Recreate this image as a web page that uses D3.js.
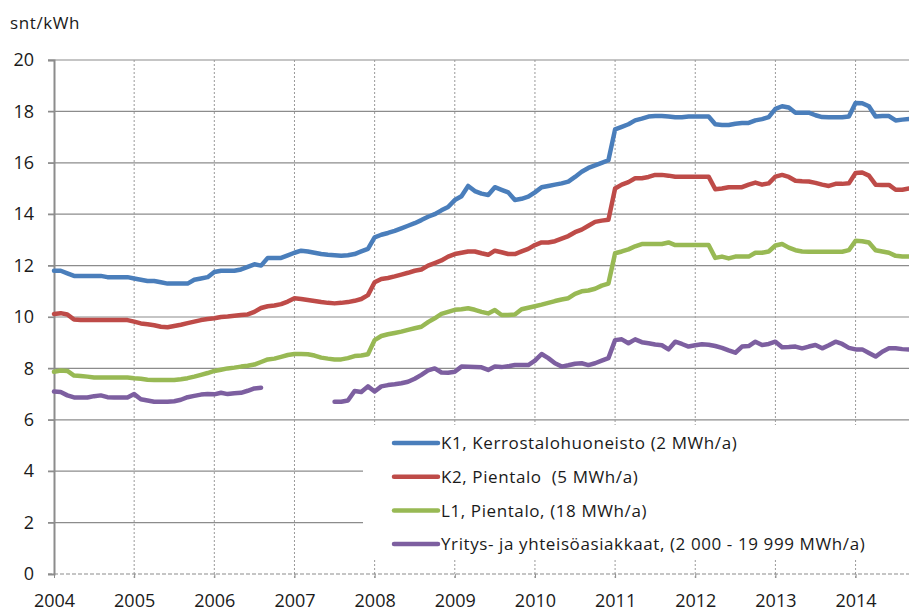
<!DOCTYPE html>
<html><head><meta charset="utf-8">
<script src="https://cdn.jsdelivr.net/npm/d3@7"></script>
<style>
html,body{margin:0;padding:0;background:#fff;}
svg{display:block;font-family:"Open Sans",sans-serif;}
</style></head>
<body>
<svg id="chart" width="909" height="612"></svg>
<script>
// Monthly series, Jan 2004 .. Sep 2014
const startYear = 2004;
const yearTicks = [2004,2005,2006,2007,2008,2009,2010,2011,2012,2013,2014];
const yTicks = [0,2,4,6,8,10,12,14,16,18,20];
const seriesNames = [
  "K1, Kerrostalohuoneisto (2 MWh/a)",
  "K2, Pientalo  (5 MWh/a)",
  "L1, Pientalo, (18 MWh/a)",
  "Yritys- ja yhteisöasiakkaat, (2 000 - 19 999 MWh/a)"
];
const seriesColors = ["#4a7ebb","#be4b48","#98b954","#7d5fa0"];

const k1 = [
 11.8,11.8,11.7,11.6,11.6,11.6,11.6,11.6,11.55,11.55,11.55,11.55,
 11.5,11.45,11.4,11.4,11.35,11.3,11.3,11.3,11.3,11.45,11.5,11.55,
 11.75,11.8,11.8,11.8,11.85,11.95,12.05,12.0,12.3,12.3,12.3,12.4,
 12.5,12.58,12.55,12.5,12.45,12.42,12.4,12.38,12.4,12.45,12.55,12.65,
 13.1,13.2,13.27,13.35,13.45,13.55,13.65,13.77,13.9,14.0,14.15,14.28,
 14.55,14.7,15.1,14.9,14.8,14.75,15.05,14.95,14.85,14.55,14.6,14.68,
 14.85,15.05,15.1,15.15,15.2,15.27,15.45,15.65,15.8,15.9,16.0,16.1,
 17.3,17.4,17.5,17.65,17.72,17.8,17.82,17.82,17.8,17.77,17.77,17.8,
 17.8,17.8,17.8,17.5,17.47,17.47,17.52,17.55,17.55,17.65,17.7,17.78,
 18.1,18.2,18.15,17.95,17.95,17.95,17.85,17.78,17.77,17.77,17.77,17.8,
 18.33,18.32,18.2,17.8,17.82,17.82,17.65,17.68,17.7
];
const k2 = [
 10.12,10.15,10.1,9.9,9.88,9.88,9.88,9.88,9.88,9.88,9.88,9.88,
 9.82,9.75,9.72,9.68,9.62,9.6,9.65,9.7,9.76,9.82,9.88,9.92,
 9.95,10.0,10.02,10.05,10.08,10.1,10.2,10.35,10.42,10.45,10.5,10.6,
 10.73,10.7,10.66,10.62,10.58,10.55,10.53,10.55,10.58,10.63,10.7,10.85,
 11.35,11.48,11.52,11.58,11.65,11.72,11.8,11.85,12.0,12.1,12.2,12.35,
 12.45,12.5,12.55,12.55,12.48,12.42,12.58,12.52,12.45,12.45,12.55,12.65,
 12.8,12.9,12.9,12.95,13.05,13.15,13.3,13.4,13.55,13.7,13.75,13.78,
 15.0,15.15,15.25,15.4,15.4,15.45,15.53,15.53,15.5,15.46,15.46,15.46,
 15.46,15.46,15.46,14.97,15.0,15.05,15.05,15.05,15.15,15.23,15.15,15.2,
 15.46,15.53,15.45,15.3,15.28,15.27,15.22,15.15,15.1,15.18,15.18,15.2,
 15.6,15.62,15.5,15.15,15.14,15.14,14.95,14.95,15.0
];
const l1 = [
 7.87,7.92,7.9,7.72,7.7,7.68,7.65,7.65,7.65,7.65,7.65,7.65,
 7.62,7.6,7.56,7.55,7.55,7.55,7.55,7.58,7.62,7.68,7.75,7.82,
 7.9,7.95,8.0,8.03,8.07,8.1,8.15,8.25,8.35,8.38,8.45,8.52,
 8.56,8.56,8.55,8.5,8.42,8.38,8.35,8.35,8.4,8.48,8.5,8.55,
 9.1,9.26,9.33,9.38,9.43,9.5,9.56,9.62,9.8,9.95,10.12,10.2,
 10.28,10.3,10.34,10.28,10.2,10.14,10.27,10.08,10.08,10.1,10.3,10.36,
 10.42,10.48,10.55,10.62,10.68,10.73,10.9,11.0,11.03,11.1,11.22,11.3,
 12.48,12.55,12.63,12.75,12.84,12.84,12.84,12.84,12.9,12.8,12.8,12.8,
 12.8,12.8,12.8,12.3,12.35,12.28,12.35,12.35,12.35,12.5,12.5,12.55,
 12.78,12.84,12.7,12.6,12.55,12.54,12.54,12.54,12.54,12.54,12.54,12.6,
 12.97,12.95,12.9,12.6,12.55,12.5,12.38,12.35,12.35
];
const yr = [
 7.1,7.08,6.95,6.87,6.87,6.87,6.92,6.95,6.88,6.87,6.87,6.87,
 7.0,6.8,6.75,6.7,6.7,6.7,6.72,6.78,6.88,6.93,6.98,7.0,
 6.99,7.05,7.0,7.03,7.05,7.13,7.22,7.25,null,null,null,null,
 null,null,null,null,null,null,6.7,6.7,6.75,7.12,7.08,7.3,
 7.1,7.3,7.35,7.38,7.42,7.48,7.6,7.75,7.92,8.0,7.84,7.83,
 7.87,8.07,8.06,8.05,8.04,7.94,8.07,8.05,8.08,8.13,8.13,8.13,
 8.3,8.56,8.4,8.2,8.07,8.12,8.18,8.2,8.13,8.2,8.3,8.4,
 9.1,9.13,8.98,9.13,9.02,8.98,8.93,8.9,8.74,9.04,8.95,8.85,
 8.9,8.94,8.92,8.87,8.8,8.7,8.61,8.85,8.87,9.04,8.91,8.95,
 9.04,8.82,8.83,8.85,8.78,8.85,8.91,8.78,8.9,9.04,8.95,8.8,
 8.74,8.74,8.6,8.46,8.65,8.78,8.78,8.75,8.74
];
const allSeries = [k1,k2,l1,yr];

const svg = d3.select("#chart");
const nMonths = k1.length; // 129
const x = d3.scaleLinear().domain([startYear, startYear + (nMonths-1)/12]).range([54, 909]);
const y = d3.scaleLinear().domain([0,20]).range([574, 60]);

// horizontal gridlines
const gridCol = "#8c8c8c";
svg.append("g").selectAll("line").data(yTicks.filter(d=>d>0)).join("line")
  .attr("x1", 48).attr("x2", 909)
  .attr("y1", d=>y(d)).attr("y2", d=>y(d))
  .attr("stroke", gridCol).attr("stroke-width", 1.2);
// vertical dotted gridlines
svg.append("g").selectAll("line").data(yearTicks.slice(1)).join("line")
  .attr("x1", d=>x(d)).attr("x2", d=>x(d))
  .attr("y1", y(20)).attr("y2", y(0)+4)
  .attr("stroke", "#9a9a9a").attr("stroke-width", 1).attr("stroke-dasharray","2,2");

// x axis line (dashed)
svg.append("line").attr("x1", 48).attr("x2", 909).attr("y1", y(0)).attr("y2", y(0))
  .attr("stroke", "#8c8c8c").attr("stroke-width", 1.2).attr("stroke-dasharray","4,2");
// y axis
const yAxis = d3.axisLeft(y).tickValues(yTicks).tickSize(6).tickPadding(14).tickFormat(d3.format("d"));
const ya = svg.append("g").attr("transform","translate(54,0)").call(yAxis);
ya.select(".domain").attr("stroke", "#8c8c8c").attr("stroke-width", 2);
ya.selectAll(".tick line").attr("stroke", "#8c8c8c").attr("stroke-width",1.2);
ya.selectAll("text").attr("font-size", 18).attr("fill", "#1a1a1a").attr("font-family","Open Sans");
ya.selectAll(".tick").filter(d=>d===0).select("line").attr("stroke-dasharray","2,1");

// x axis labels
const xAxis = d3.axisBottom(x).tickValues(yearTicks).tickSize(4).tickPadding(16).tickFormat(d3.format("d"));
const xa = svg.append("g").attr("transform",`translate(0,${y(0)})`).call(xAxis);
xa.select(".domain").remove();
xa.selectAll(".tick line").attr("stroke", "#8c8c8c");
xa.selectAll("text").attr("font-size", 18).attr("fill", "#1a1a1a").attr("font-family","Open Sans");

// unit label
svg.append("text").attr("x", 10).attr("y", 29).text("snt/kWh")
  .attr("font-size", 17).attr("fill", "#1a1a1a").attr("letter-spacing", 0.6);

// lines
const line = d3.line()
  .defined(d => d.v !== null)
  .x(d => x(d.t)).y(d => y(d.v));
allSeries.forEach((s, k) => {
  const pts = s.map((v,i)=>({t: startYear + i/12, v}));
  svg.append("path").datum(pts)
    .attr("d", line).attr("fill","none")
    .attr("stroke", seriesColors[k]).attr("stroke-width", 4.5)
    .attr("stroke-linejoin","round").attr("stroke-linecap","round");
});

// legend
const lg = svg.append("g");
lg.append("rect").attr("x", 363).attr("y", 425).attr("width", 546).attr("height", 135).attr("fill", "#fff");
seriesNames.forEach((n,k)=>{
  const cy = 443 + k*33.7;
  lg.append("line").attr("x1", 394).attr("x2", 438).attr("y1", cy).attr("y2", cy)
    .attr("stroke", seriesColors[k]).attr("stroke-width", 4.5).attr("stroke-linecap","round");
  lg.append("text").attr("x", 441).attr("y", cy).attr("dy","0.36em").text(n)
    .style("white-space","pre")
    .attr("font-size", 17).attr("fill","#1a1a1a").attr("letter-spacing", 0.6);
});
</script>
</body></html>
